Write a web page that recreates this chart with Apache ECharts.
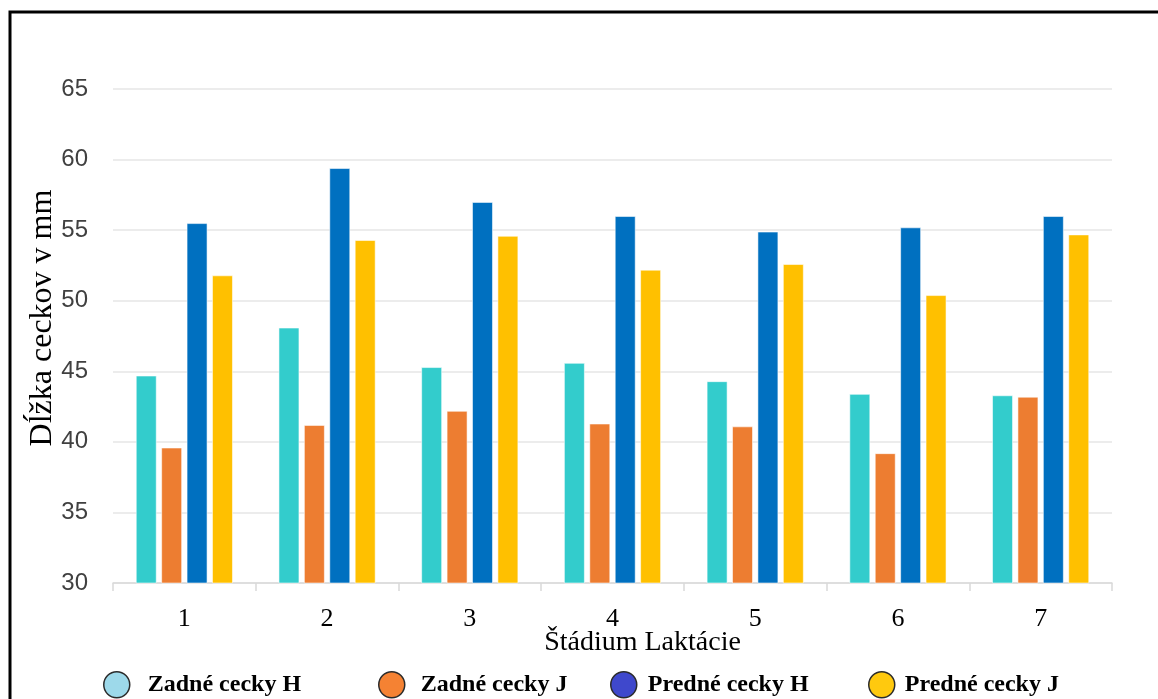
<!DOCTYPE html>
<html>
<head>
<meta charset="utf-8">
<script src="https://cdn.jsdelivr.net/npm/echarts@6/dist/echarts.min.js"></script>
<style>
  html, body { margin: 0; padding: 0; background: #fff; }
  #chart { width: 1158px; height: 699px; }
</style>
</head>
<body>
<div id="chart"></div>
<script>
// Lactation stages on the x axis
const stages = ['1', '2', '3', '4', '5', '6', '7'];

// Teat length (mm) per stage
const zadneH = [44.7, 48.1, 45.3, 45.6, 44.3, 43.4, 43.3];
const zadneJ = [39.6, 41.2, 42.2, 41.3, 41.1, 39.2, 43.2];
const predneH = [55.5, 59.4, 57.0, 56.0, 54.9, 55.2, 56.0];
const predneJ = [51.8, 54.3, 54.6, 52.2, 52.6, 50.4, 54.7];

const seriesNames = ['Zadné cecky H', 'Zadné cecky J', 'Predné cecky H', 'Predné cecky J'];
const seriesData = [zadneH, zadneJ, predneH, predneJ];
const barColors = ['#33CCCC', '#ED7D31', '#0070C0', '#FFC000'];
const legendColors = ['#9DD9EA', '#F58233', '#3F48CC', '#FFC90E'];

const yMin = 30, yMax = 65, yStep = 5;

const serif = '"Liberation Serif", "Times New Roman", serif';
const sans = '"Liberation Sans", Arial, sans-serif';

const chart = echarts.init(document.getElementById('chart'), null, { renderer: 'canvas' });

// one legend block per series, each placed on its own
const legendLeft = [103, 378, 610, 868];
const legendTextPad = [13, 11, 6, 5];
const legends = seriesNames.map((name, i) => ({
  show: true,
  left: legendLeft[i],
  top: 671,
  padding: 0,
  orient: 'horizontal',
  icon: 'circle',
  itemWidth: 26,
  itemHeight: 26,
  data: [{
    name: name,
    itemStyle: { color: legendColors[i], borderColor: '#2b2b2b', borderWidth: 1.5 }
  }],
  textStyle: {
    fontFamily: serif,
    fontWeight: 'bold',
    fontSize: 24,
    color: '#000',
    padding: [0, 0, 0, legendTextPad[i]]
  },
  selectedMode: false
}));

const option = {
  backgroundColor: '#fff',
  animation: false,
  grid: { left: 113, right: 46, top: 89, bottom: 116, containLabel: false },
  legend: legends,
  xAxis: {
    type: 'category',
    data: stages,
    name: 'Štádium Laktácie',
    nameLocation: 'middle',
    nameGap: 46,
    nameMoveOverlap: false,
    nameTextStyle: { fontFamily: serif, fontSize: 28, color: '#000', padding: [0, 0, 0, 60] },
    axisLine: { show: true, lineStyle: { color: '#d9d9d9', width: 1.5 } },
    axisTick: { show: true, alignWithLabel: false, length: 8, lineStyle: { color: '#d9d9d9', width: 1.5 } },
    axisLabel: { fontFamily: serif, fontSize: 26, color: '#000', margin: 23 }
  },
  yAxis: {
    type: 'value',
    min: yMin,
    max: yMax,
    interval: yStep,
    name: 'Dĺžka ceckov v mm',
    nameLocation: 'middle',
    nameGap: 54,
    nameMoveOverlap: false,
    nameTextStyle: { fontFamily: serif, fontSize: 32, color: '#000', padding: [0, 0, 0, 36] },
    axisLine: { show: false },
    axisTick: { show: false },
    axisLabel: { fontFamily: sans, fontSize: 24, color: '#404040', margin: 25 },
    splitLine: { show: true, lineStyle: { color: '#e6e6e6', width: 1.5 } }
  },
  series: seriesNames.map((name, i) => ({
    name: name,
    type: 'bar',
    data: seriesData[i],
    barWidth: 21,
    barGap: '21%',
    itemStyle: {
      color: barColors[i],
      borderColor: 'rgba(255,255,255,0.55)',
      borderWidth: 1
    }
  })),
  graphic: [{
    type: 'polyline',
    shape: { points: [[10, 699], [10, 12], [1160, 12]] },
    style: { stroke: '#000', lineWidth: 3, fill: null },
    silent: true
  }]
};

chart.setOption(option);
</script>
</body>
</html>
